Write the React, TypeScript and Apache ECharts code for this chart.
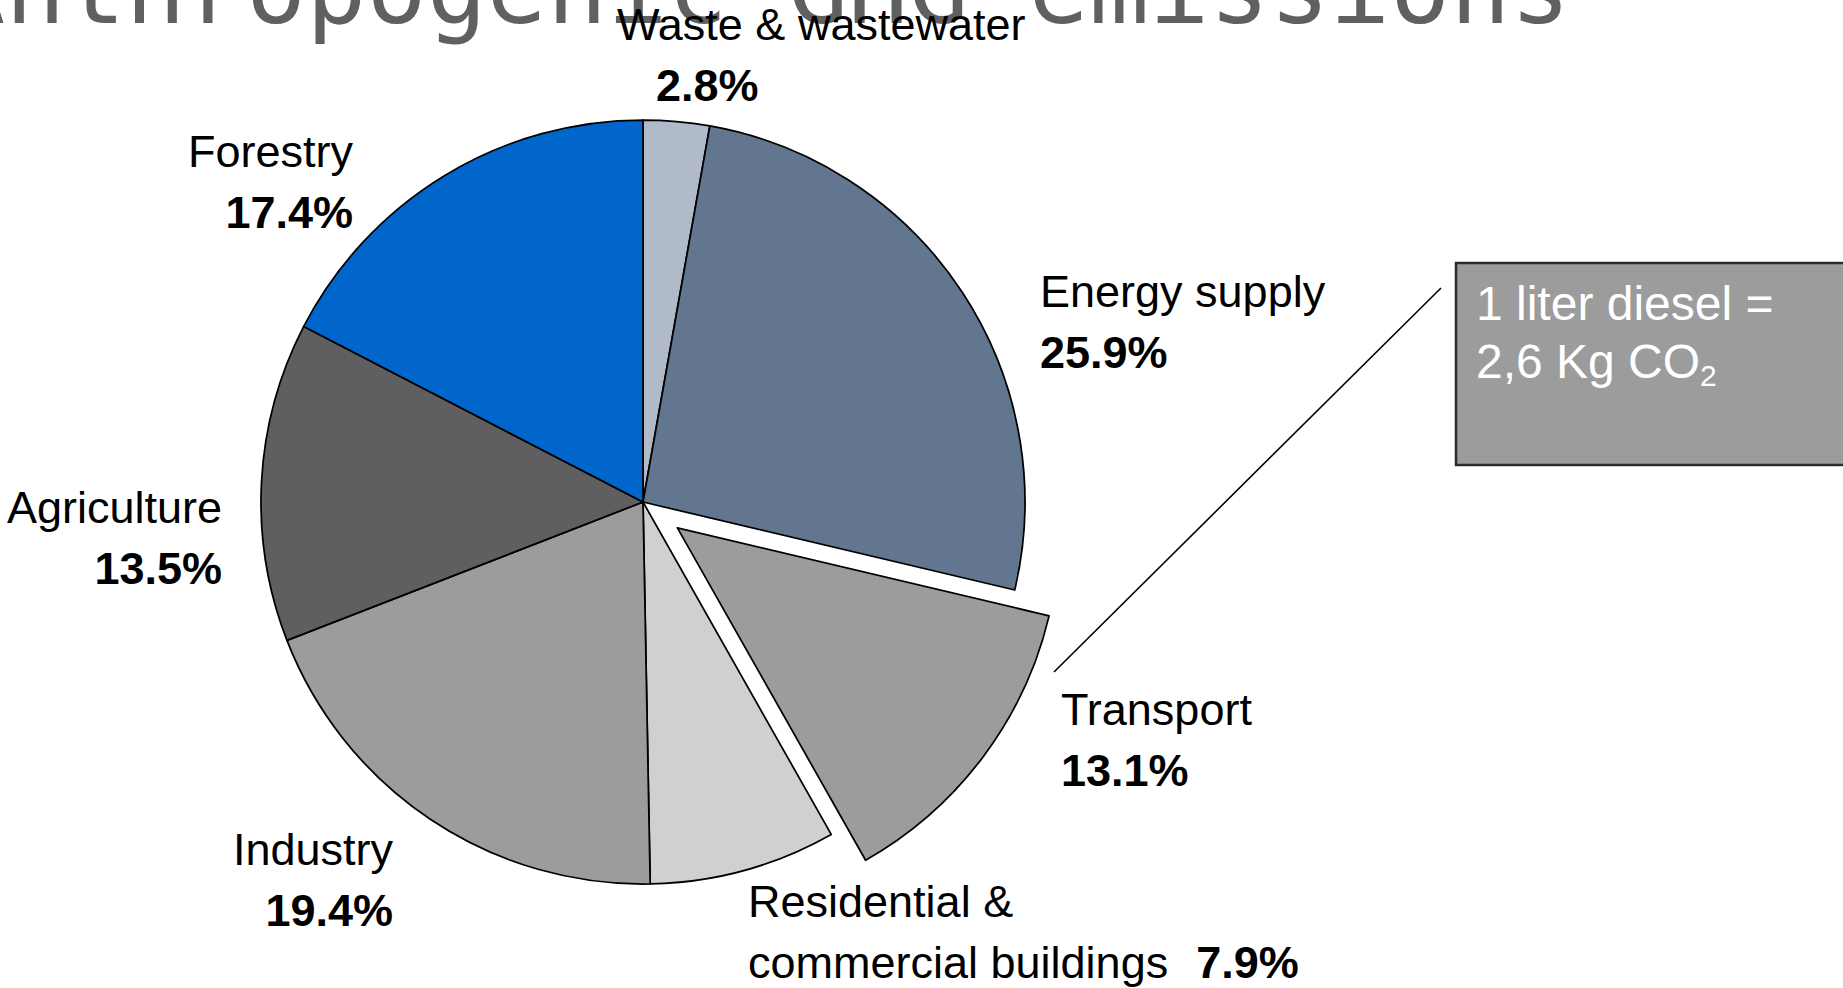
import React, { useEffect, useRef } from 'react';
import * as echarts from 'echarts';

// ---- data ----
const categories = [
  'Waste & wastewater',
  'Energy supply',
  'Transport',
  'Residential & commercial buildings',
  'Industry',
  'Agriculture',
  'Forestry',
];
const shares = [2.8, 25.9, 13.1, 7.9, 19.4, 13.5, 17.4];
const sliceColors = ['#b0bac8', '#62778f', '#9c9c9c', '#d0d0d0', '#9c9c9c', '#5f5f5f', '#0066cc'];
const explodedCategory = 'Transport';
const titleText = 'Anthropogenic GHG emissions';
const calloutLine1 = '1 liter diesel =';
const calloutLine2 = '2,6 Kg CO';
const calloutSub = '2';

// ---- label layout (position / alignment of each slice label) ----
const labelLayoutSpec = [
  { x: 617, y: -6, align: 'left' },
  { x: 1040, y: 261, align: 'left' },
  { x: 1061, y: 679, align: 'left' },
  { x: 748, y: 871, align: 'left' },
  { x: 393, y: 819, align: 'right' },
  { x: 222, y: 477, align: 'right' },
  { x: 353, y: 121, align: 'right' },
];

const FONT = 'Liberation Sans, Arial, Helvetica, sans-serif';
const PIE_CENTER = [643, 502];
const PIE_RADIUS = 382;

export default function App() {
  const ref = useRef<HTMLDivElement>(null);

  useEffect(() => {
    if (!ref.current) return;
    const chart = echarts.init(ref.current, null, { renderer: 'svg' });

    const sliceData = categories.map((name, i) => ({
      name,
      value: shares[i],
      selected: name === explodedCategory,
      itemStyle: { color: sliceColors[i] },
    }));
    const labelData = categories.map((name, i) => ({ name, value: shares[i] }));

    const option: any = {
      animation: false,
      backgroundColor: '#ffffff',
      graphic: [
        {
          type: 'text',
          z: 0,
          x: -55,
          y: -12,
          style: {
            text: titleText,
            font: '100px "DejaVu Sans Mono", monospace',
            fill: '#606060',
            align: 'left',
            verticalAlign: 'middle',
          },
        },
        {
          type: 'line',
          z: 5,
          shape: { x1: 1054, y1: 672, x2: 1441, y2: 288 },
          style: { stroke: '#000', lineWidth: 1.6 },
        },
        {
          type: 'rect',
          z: 5,
          shape: { x: 1456, y: 263, width: 420, height: 202 },
          style: { fill: '#9c9c9c', stroke: '#2b2b2b', lineWidth: 2.5 },
        },
        {
          type: 'text',
          z: 6,
          x: 1476,
          y: 274,
          style: {
            text: `{a|${calloutLine1}}\n{a|${calloutLine2}}{s|${calloutSub}}`,
            align: 'left',
            verticalAlign: 'top',
            rich: {
              a: { fontFamily: FONT, fontSize: 48, fill: '#ffffff', lineHeight: 58 },
              s: { fontFamily: FONT, fontSize: 30, fill: '#ffffff', lineHeight: 30, verticalAlign: 'bottom' },
            },
          },
        },
      ],
      series: [
        {
          type: 'pie',
          z: 2,
          center: PIE_CENTER,
          radius: PIE_RADIUS,
          startAngle: 90,
          clockwise: true,
          selectedMode: 'single',
          selectedOffset: 43,
          silent: true,
          emphasis: { disabled: true },
          itemStyle: { borderColor: '#000', borderWidth: 1.75 },
          select: { itemStyle: { borderColor: '#000', borderWidth: 1.75 } },
          label: { show: false },
          labelLine: { show: false },
          data: sliceData,
        },
        {
          type: 'pie',
          z: 3,
          center: PIE_CENTER,
          radius: PIE_RADIUS,
          startAngle: 90,
          clockwise: true,
          selectedMode: false,
          silent: true,
          avoidLabelOverlap: false,
          emphasis: { disabled: true },
          itemStyle: { color: 'rgba(0,0,0,0)', borderWidth: 0 },
          labelLine: { show: false },
          label: {
            show: true,
            position: 'outside',
            formatter: (p: any) => {
              const i = p.dataIndex;
              const v = shares[i].toFixed(1) + '%';
              const name = categories[i];
              if (i === 0) return `{n|${name}}\n{vp|${v}}`;
              if (i === 3) {
                const parts = name.split('& ');
                return `{n|${parts[0]}&}\n{n|${parts[1]}}{vr|${v}}`;
              }
              return `{n|${name}}\n{v|${v}}`;
            },
            rich: {
              n: { fontFamily: FONT, fontSize: 45, color: '#000', lineHeight: 61 },
              v: { fontFamily: FONT, fontSize: 45, fontWeight: 'bold', color: '#000', lineHeight: 61 },
              vp: { fontFamily: FONT, fontSize: 45, fontWeight: 'bold', color: '#000', lineHeight: 61, padding: [0, 0, 0, 39] },
              vr: { fontFamily: FONT, fontSize: 45, fontWeight: 'bold', color: '#000', lineHeight: 61, padding: [0, 0, 0, 28] },
            },
          },
          labelLayout: (params: any) => {
            const s = labelLayoutSpec[params.dataIndex];
            return { x: s.x, y: s.y, align: s.align, verticalAlign: 'top', hideOverlap: false };
          },
          data: labelData,
        },
      ],
    };

    chart.setOption(option);
    return () => chart.dispose();
  }, []);

  return (
    <div
      ref={ref}
      style={{ position: 'fixed', left: 0, top: 0, width: 1843, height: 988, background: '#fff' }}
    />
  );
}
